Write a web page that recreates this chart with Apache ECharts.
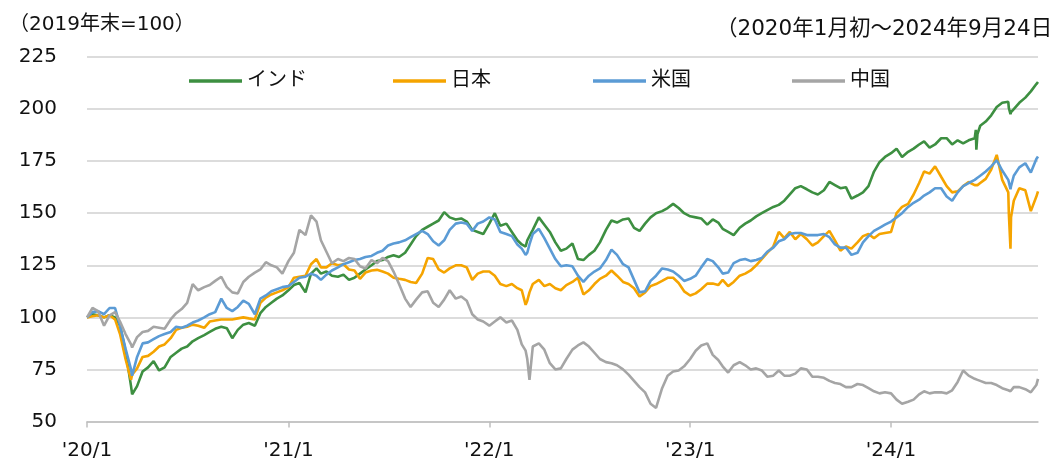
<!DOCTYPE html>
<html>
<head>
<meta charset="utf-8">
<script src="https://cdn.jsdelivr.net/npm/echarts@6/dist/echarts.min.js"></script>
<style>
html,body{margin:0;padding:0;background:#fff;}
#chart{width:1051px;height:461px;}
</style>
</head>
<body>
<div id="chart"></div>
<script>
// ---- data (2019年末=100) ----
const seriesNames = ['インド', '日本', '米国', '中国'];
const dates = [
'2020-01-01','2020-01-11','2020-01-21','2020-02-01','2020-02-11','2020-02-21','2020-03-01','2020-03-11','2020-03-21','2020-03-23',
'2020-04-01','2020-04-11','2020-04-21','2020-05-01','2020-05-11','2020-05-21','2020-06-01','2020-06-11','2020-06-21','2020-07-01',
'2020-07-11','2020-07-21','2020-08-01','2020-08-11','2020-08-21','2020-09-01','2020-09-11','2020-09-21','2020-10-01','2020-10-11',
'2020-10-21','2020-11-01','2020-11-11','2020-11-21','2020-12-01','2020-12-11','2020-12-21',
'2021-01-01','2021-01-11','2021-01-21','2021-02-01','2021-02-11','2021-02-21','2021-03-01','2021-03-11','2021-03-21','2021-04-01',
'2021-04-11','2021-04-21','2021-05-01','2021-05-11','2021-05-21','2021-06-01','2021-06-11','2021-06-21','2021-07-01','2021-07-11',
'2021-07-21','2021-08-01','2021-08-11','2021-08-21','2021-09-01','2021-09-11','2021-09-21','2021-10-01','2021-10-11','2021-10-21',
'2021-11-01','2021-11-11','2021-11-21','2021-12-01','2021-12-11','2021-12-21',
'2022-01-01','2022-01-11','2022-01-21','2022-02-01','2022-02-11','2022-02-21','2022-03-01','2022-03-08','2022-03-11','2022-03-15',
'2022-03-21','2022-04-01','2022-04-11','2022-04-21','2022-05-01','2022-05-11','2022-05-21','2022-06-01','2022-06-11','2022-06-21',
'2022-07-01','2022-07-11','2022-07-21','2022-08-01','2022-08-11','2022-08-21','2022-09-01','2022-09-11','2022-09-21','2022-10-01',
'2022-10-11','2022-10-21','2022-10-31','2022-11-11','2022-11-21','2022-12-01','2022-12-11','2022-12-21',
'2023-01-01','2023-01-11','2023-01-21','2023-02-01','2023-02-11','2023-02-21','2023-03-01','2023-03-11','2023-03-21','2023-04-01',
'2023-04-11','2023-04-21','2023-05-01','2023-05-11','2023-05-21','2023-06-01','2023-06-11','2023-06-21','2023-07-01','2023-07-11',
'2023-07-21','2023-08-01','2023-08-11','2023-08-21','2023-09-01','2023-09-11','2023-09-21','2023-10-01','2023-10-11','2023-10-21',
'2023-11-01','2023-11-11','2023-11-21','2023-12-01','2023-12-11','2023-12-21',
'2024-01-01','2024-01-11','2024-01-21','2024-02-01','2024-02-11','2024-02-21','2024-03-01','2024-03-11','2024-03-21','2024-04-01',
'2024-04-11','2024-04-21','2024-05-01','2024-05-11','2024-05-21','2024-06-01','2024-06-03','2024-06-04','2024-06-06','2024-06-11',
'2024-06-21','2024-07-01','2024-07-11','2024-07-21','2024-08-01','2024-08-02','2024-08-05','2024-08-06','2024-08-11','2024-08-21',
'2024-09-01','2024-09-11','2024-09-21','2024-09-24'
];
const india = [
100,101.5,101,100,101,100,96,84,67,63,
67,74,76,79,74.5,76,81,83,85,86,
88.5,90,91.5,93,94.5,95.5,94.8,90,94,96.5,
97.3,96,102,105,107,109,110.5,
113,115.5,116.5,112,121,123.5,121,122,120,119.5,
120.5,118,119,121,123,125,127,127.5,129,129.8,
129,131,135,139,142,143.5,145,146.5,150.5,148,
147,147.5,146,142,141,140,
145,150,144,145,141,137,135,134,137,139,
142,148,144.5,141,136,132,133,135.5,128,127.5,
130,132,136,142,146.5,145.5,147,147.5,143,141.5,
145,148,150,151,152.5,154.5,152.5,150,
148.5,148,147.5,144.5,147,145.5,142.5,141,139.5,143,
145,146.5,148.5,150,151.5,153,154,156,159,162,
163,161.5,160,159,161,165,163.5,162,162.5,157,
158.5,160,163,170,174.5,177,
178.8,181,177,179.5,181,183,184.5,181.5,183,186,
186,183,185,183.5,185,186,190,180.5,188,192,
194,197,201,203,203.5,200.5,197.5,198.5,200,203,
205.5,208.5,212,213
];
const japan = [
100,100.5,101,100,101,99,92,80,70,72.5,
75.5,81,81.5,83.5,86,87,90,94,95,95.5,
96.5,96,95,98,98.5,99,99,99,99.5,100,
99.5,99,107,109.5,111,112,113,
114.5,119,119.5,120,125.5,128,124,124,126,125,
125.5,123,122.5,118.5,121.5,122.5,122.8,122,121,119,
118.5,118,117,116.5,121,128.5,128,123,121.5,123.5,
125,125,124,118,121,122,
122,120,116,115,116,114,113,106,108,112,
116,118,115,116,114,113,115.5,117,119,111,
113,116,118.5,120,122.5,120,117,116,114,110,
112,115,116,117.5,119,119,116.5,112.5,
110.5,111.5,113.5,116.2,116.2,115.5,118,115,117,120,
121,122.5,125,128,131,134,141,138,141,137.5,
140,137.5,134.5,136,139,141.5,137,132,134,133,
136,139,140,138,140,140.5,
141,150,153,154.5,159,164.5,170,169,172.5,167.5,
163,160,160.5,163,165,163.5,164,163,163.5,164.5,
166.5,171,178,166,160,150,133,148,156,162,
161,151,158,160.5
];
const usa = [
100,102.5,103,101.5,104.5,104.5,96,85,75,72,
81,87.5,88,89.5,91,92,93,95.5,95,96,
97.5,98.5,100,101.5,102.5,109,104.5,103,105,108,
106.5,101.5,109,110.5,112.5,113.5,114.5,
115,117,119,119.5,121,120,118,120.5,122.5,124,
125.5,126.5,127.5,128,129,129.5,131,132,134.5,135.5,
136,137,138.5,140,141.5,140,136.5,134.5,137,142,
145,145.5,145,141.5,145,146,
148,147,141,140,139,135,133,130,131,135,
140,142.5,138,133,128,124.5,125,124.5,120,117,
120,122,123.5,127.5,132.5,130,125.5,124,118,112,
112.5,117.5,120,123.5,123,122,120,117.5,
118.5,120,124,128,127,124,121,121.5,126,127.5,
128,127,127.5,128.5,131.5,133.5,136.5,137.5,140,140.5,
140.5,139.5,139.5,139.5,140,138.5,135,133.5,133.5,130,
131,136,139,141.5,143,144.5,
146,148,150,153,155,156.5,158.5,160,162,162,
158,156,160,163,164.5,166,166.5,166.5,167,168,
170,172.5,175.5,170.5,166,165,161.5,163,168,172,
174,169.5,176,177.2
];
const china = [
100,104.5,103,96,101,102.5,98,92,87,85.5,
90.5,93,93.5,95.5,95,94.5,99,102,104,107,
116,113,114.5,115.5,117.5,119.5,114.5,112,111.5,117,
119.5,121.5,123,126.5,125,124,121,
127,131,142,139.5,149,146,137,131.5,126,128,
127,128.5,128,124.5,123.5,127.5,126,128.5,127,122,
116,109,105,108.5,112,112.5,107,105,108.5,113,
109,110,108,101.5,99,98,
96,98,100,97.5,98.5,94,87,84,80,70,
86,87.5,84.5,78,75,75.5,80,84.5,86.5,88,
86,83,80,78.5,78,77,75,72.5,69.5,66.5,
64,58.5,56.5,66,72,74,74.5,76.5,
80,84,86.5,87.5,82,79.5,76.5,73.5,77,78.5,
77,75,75.5,74.5,71.5,72,74.5,72,72,73,
75.5,75,71.5,71.5,71,69.5,68.5,68,66.5,66.5,
68,67.5,66,64.5,63.5,64,
63.5,60.5,58.5,59.5,60.5,63,64.5,63.5,64,64,
63.5,65,69,74.5,72,70.5,70.5,70.3,70,69.5,
68.5,68.5,67.5,66,65,65,64.5,65,66.5,66.5,
65.5,64,67.5,70.5
];
const yTicks = [50, 75, 100, 125, 150, 175, 200, 225];
const unitNote = '（2019年末=100）';
const periodNote = '（2020年1月初～2024年9月24日）';

// ---- chart ----
const FONT = "'DejaVu Sans', 'Noto Sans CJK JP', sans-serif";
const colors = ['#3D8F41', '#F5A400', '#5B9BD5', '#A5A5A5'];
const values = [india, japan, usa, china];
const YEAR = 365.25 * 24 * 3600 * 1000;

const chart = echarts.init(document.getElementById('chart'), null, {renderer: 'canvas'});
const legendLeft = [189, 393, 593, 792];

const option = {
  animation: false,
  backgroundColor: '#ffffff',
  textStyle: {fontFamily: FONT},
  title: [
    {text: unitNote, left: 9, top: 15, padding: 0,
     textStyle: {fontSize: 20, fontWeight: 'normal', color: '#111', fontFamily: FONT}},
    {text: periodNote, left: 716, top: 19, padding: 0,
     textStyle: {fontSize: 21.5, fontWeight: 'normal', color: '#111', fontFamily: FONT}}
  ],
  legend: seriesNames.map((n, i) => ({
    data: [n], left: legendLeft[i], top: 71, padding: 0,
    itemWidth: 53, itemHeight: 20, icon: 'path://M0,9 L53,9 L53,12.5 L0,12.5 Z',
    textStyle: {fontSize: 20, color: '#111', fontFamily: FONT},
    selectedMode: false
  })),
  grid: {left: 87, right: 13, top: 57, bottom: 39.5, containLabel: false},
  xAxis: {
    type: 'time',
    min: new Date(2020, 0, 1).getTime(),
    max: new Date(2024, 8, 24).getTime(),
    minInterval: YEAR, maxInterval: YEAR,
    splitLine: {show: false},
    axisLine: {show: true, lineStyle: {color: '#BFBFBF', width: 1.5}},
    axisTick: {show: true, length: 6, lineStyle: {color: '#BFBFBF', width: 1.5}},
    axisLabel: {
      fontSize: 20, color: '#111', fontFamily: FONT, margin: 19,
      hideOverlap: false, showMinLabel: true, showMaxLabel: false,
      formatter: function (val) {
        const d = new Date(val);
        if (d.getMonth() === 0 && d.getDate() === 1) {
          return "'" + String(d.getFullYear()).slice(2) + '/1';
        }
        return '';
      }
    }
  },
  yAxis: {
    type: 'value', min: yTicks[0], max: yTicks[yTicks.length - 1], interval: 25,
    axisLine: {show: false}, axisTick: {show: false},
    axisLabel: {fontSize: 20, color: '#111', fontFamily: FONT, margin: 30},
    splitLine: {lineStyle: {color: '#D0D0D0', width: 1.5}}
  },
  series: seriesNames.map((n, i) => ({
    name: n, type: 'line', symbol: 'none', showSymbol: false,
    data: dates.map((d, k) => [d, values[i][k]]),
    lineStyle: {color: colors[i], width: 2.6},
    itemStyle: {color: colors[i]},
    z: 2 + i
  }))
};
chart.setOption(option);
</script>
</body>
</html>
